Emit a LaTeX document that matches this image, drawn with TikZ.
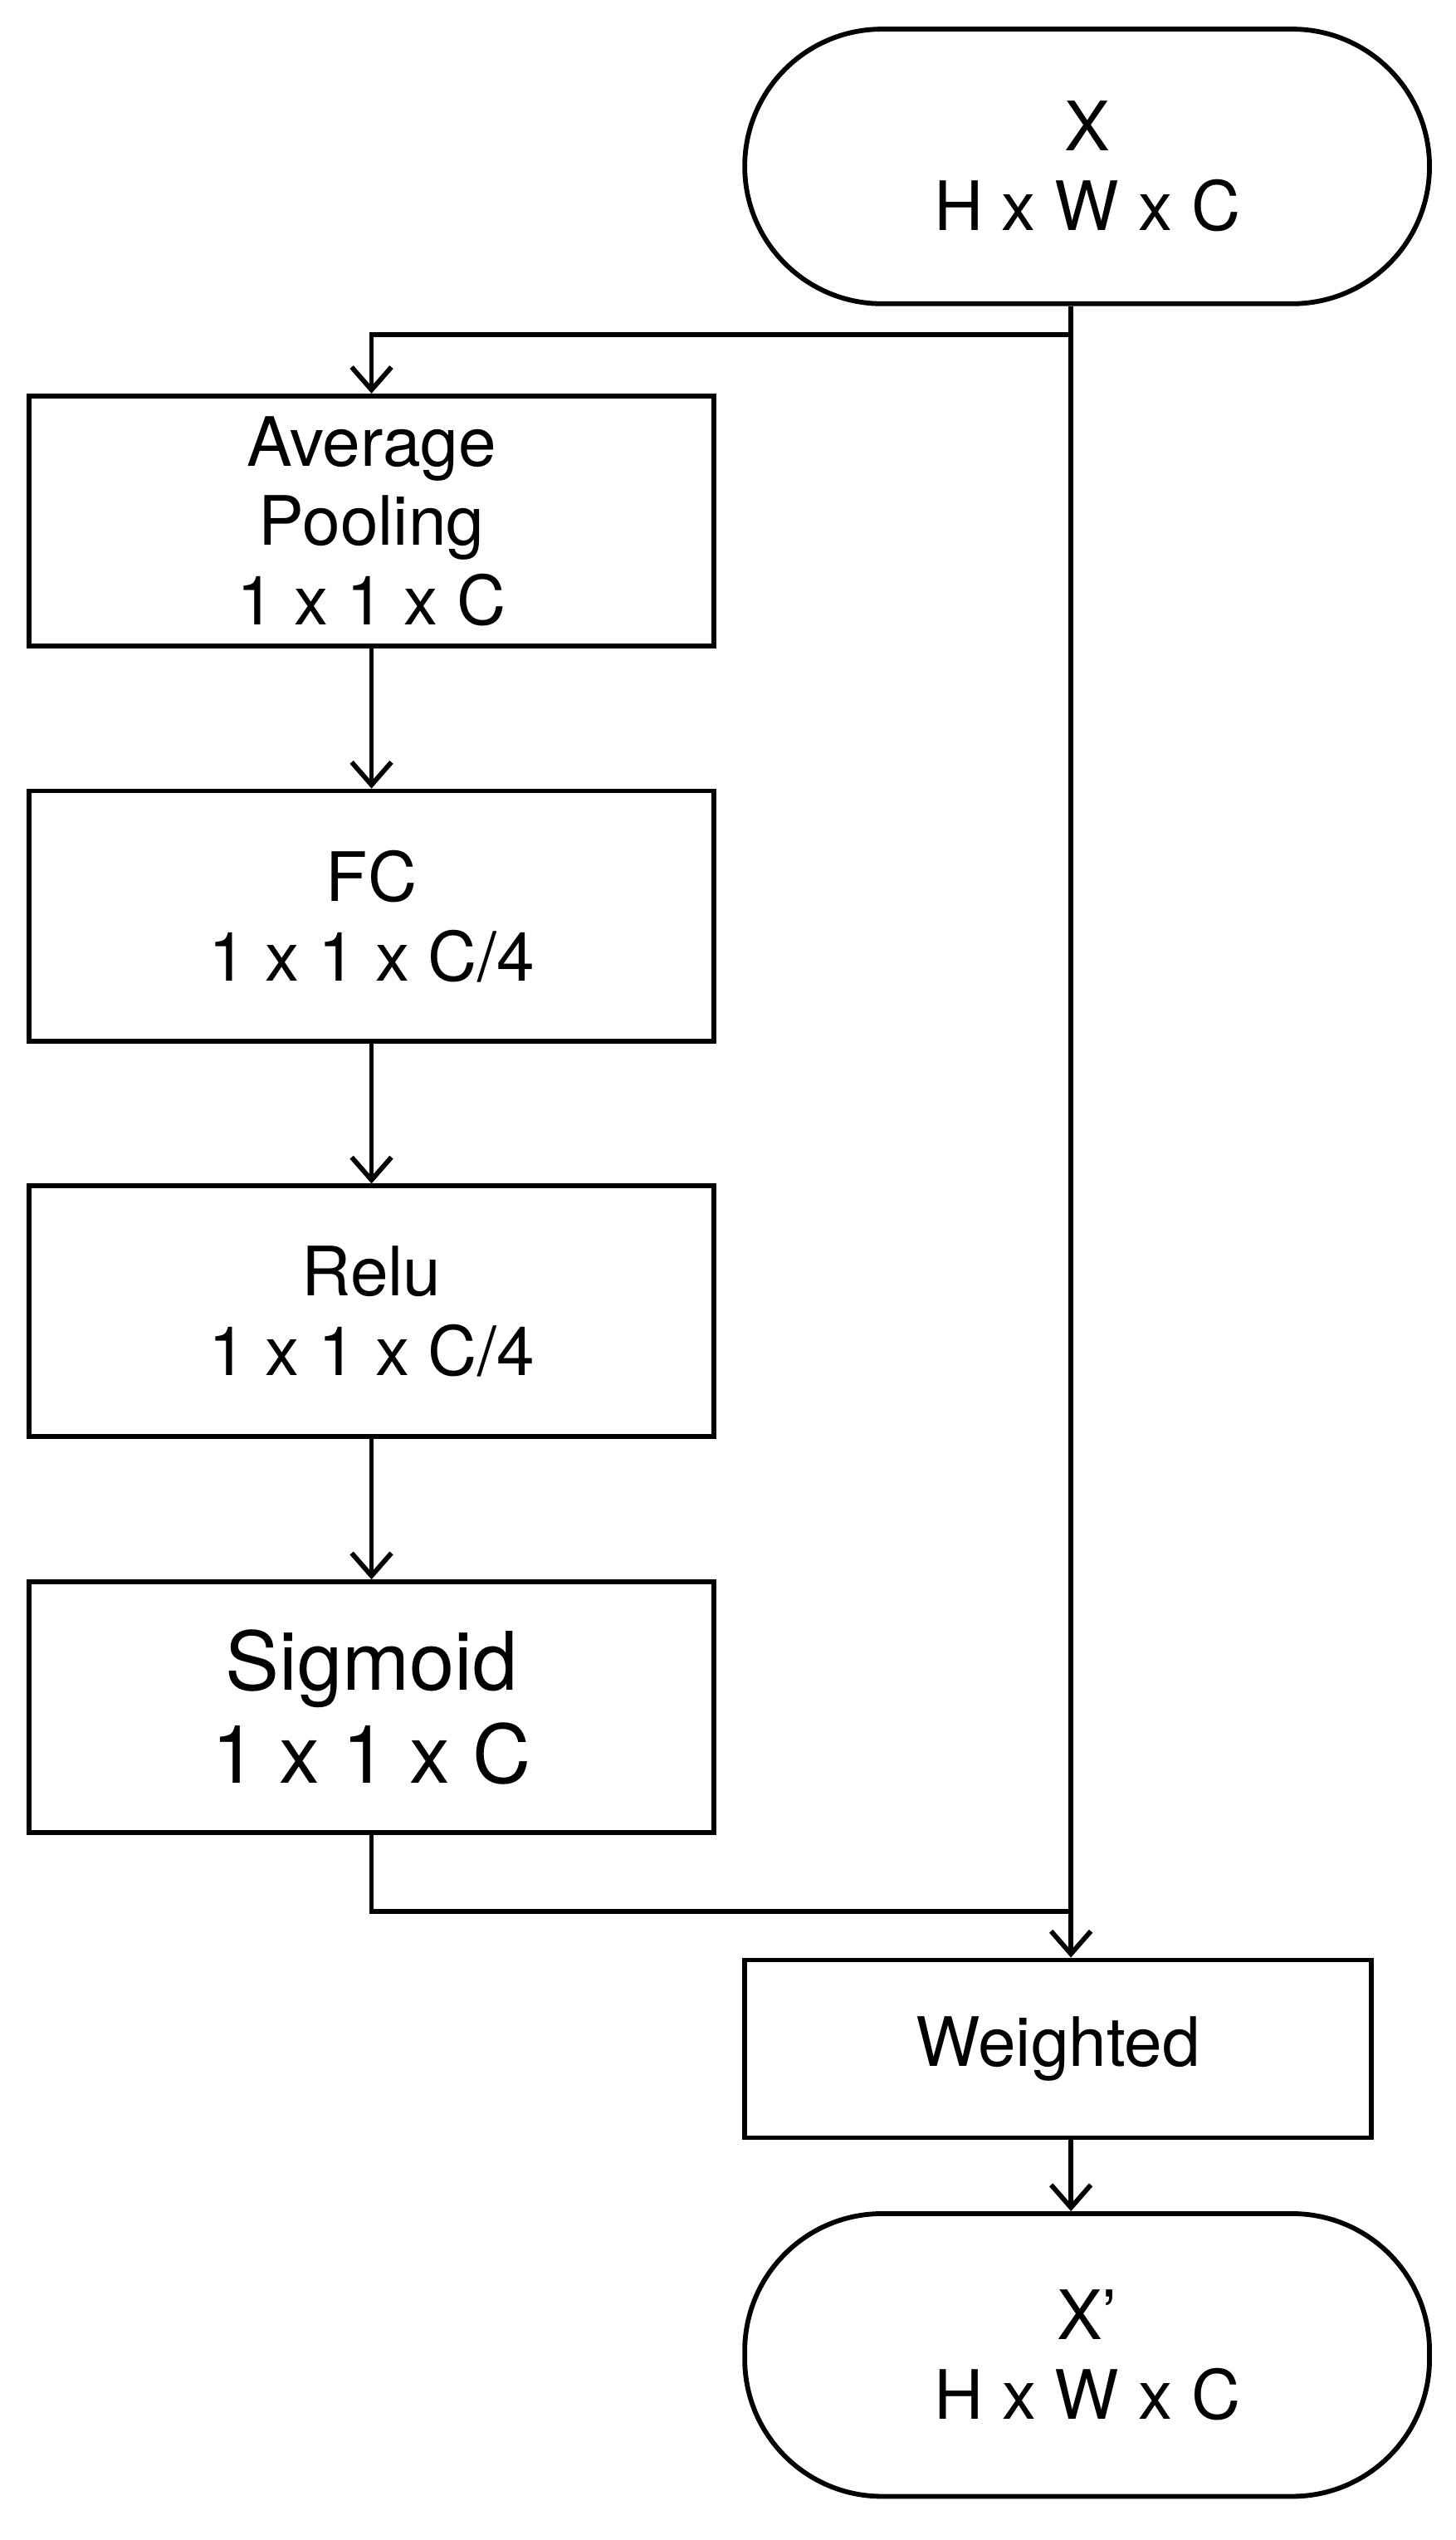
\documentclass[tikz,border=0pt]{standalone}
\usepackage{fontspec}
\setmainfont{TeX Gyre Heros}
\usetikzlibrary{arrows.meta}
\begin{document}
\begin{tikzpicture}[x=0.02cm,y=-0.02cm,
  every node/.style={align=center,font=\fontsize{24}{28}\selectfont},
  box/.style={draw,line width=1.7pt,minimum width=8.48cm,minimum height=3.1cm,inner sep=0pt},
  term/.style={draw,line width=1.7pt,minimum width=8.48cm,rounded corners=1.7cm,inner sep=0pt},
  ln/.style={line width=1.7pt},
  ar/.style={ln,-{Straight Barb[length=8pt,width=14pt,line width=1.7pt]}}]
\useasboundingbox (0,0) rectangle (901,1572);
\node[term,minimum height=3.4cm] (X) at (673,103) {X\\H x W x C};
\node[box] (avg) at (230,322.5) {Average\\Pooling\\1 x 1 x C};
\node[box] (fc) at (230,567) {FC\\1 x 1 x C/4};
\node[box] (relu) at (230,811.5) {Relu\\1 x 1 x C/4};
\node[box,font=\fontsize{28.5}{33}\selectfont] (sig) at (230,1056.5) {Sigmoid\\1 x 1 x C};
\node[box,minimum width=7.76cm,minimum height=2.2cm] (W) at (655,1268) {Weighted};
\node[term,minimum height=3.5cm] (Xp) at (673,1457.5) {X’\\H x W x C};
\coordinate (c) at (663,0);
\coordinate (split) at (663,207);
\coordinate (join) at (663,1183);
\draw[ar] (X.south -| c) -- (W.north -| c);
\draw[ar] (split) -| (avg.north);
\draw[ar] (avg) -- (fc);
\draw[ar] (fc) -- (relu);
\draw[ar] (relu) -- (sig);
\draw[ln] (sig.south) |- (join);
\draw[ar] (W.south -| c) -- (Xp.north -| c);
\end{tikzpicture}
\end{document}
